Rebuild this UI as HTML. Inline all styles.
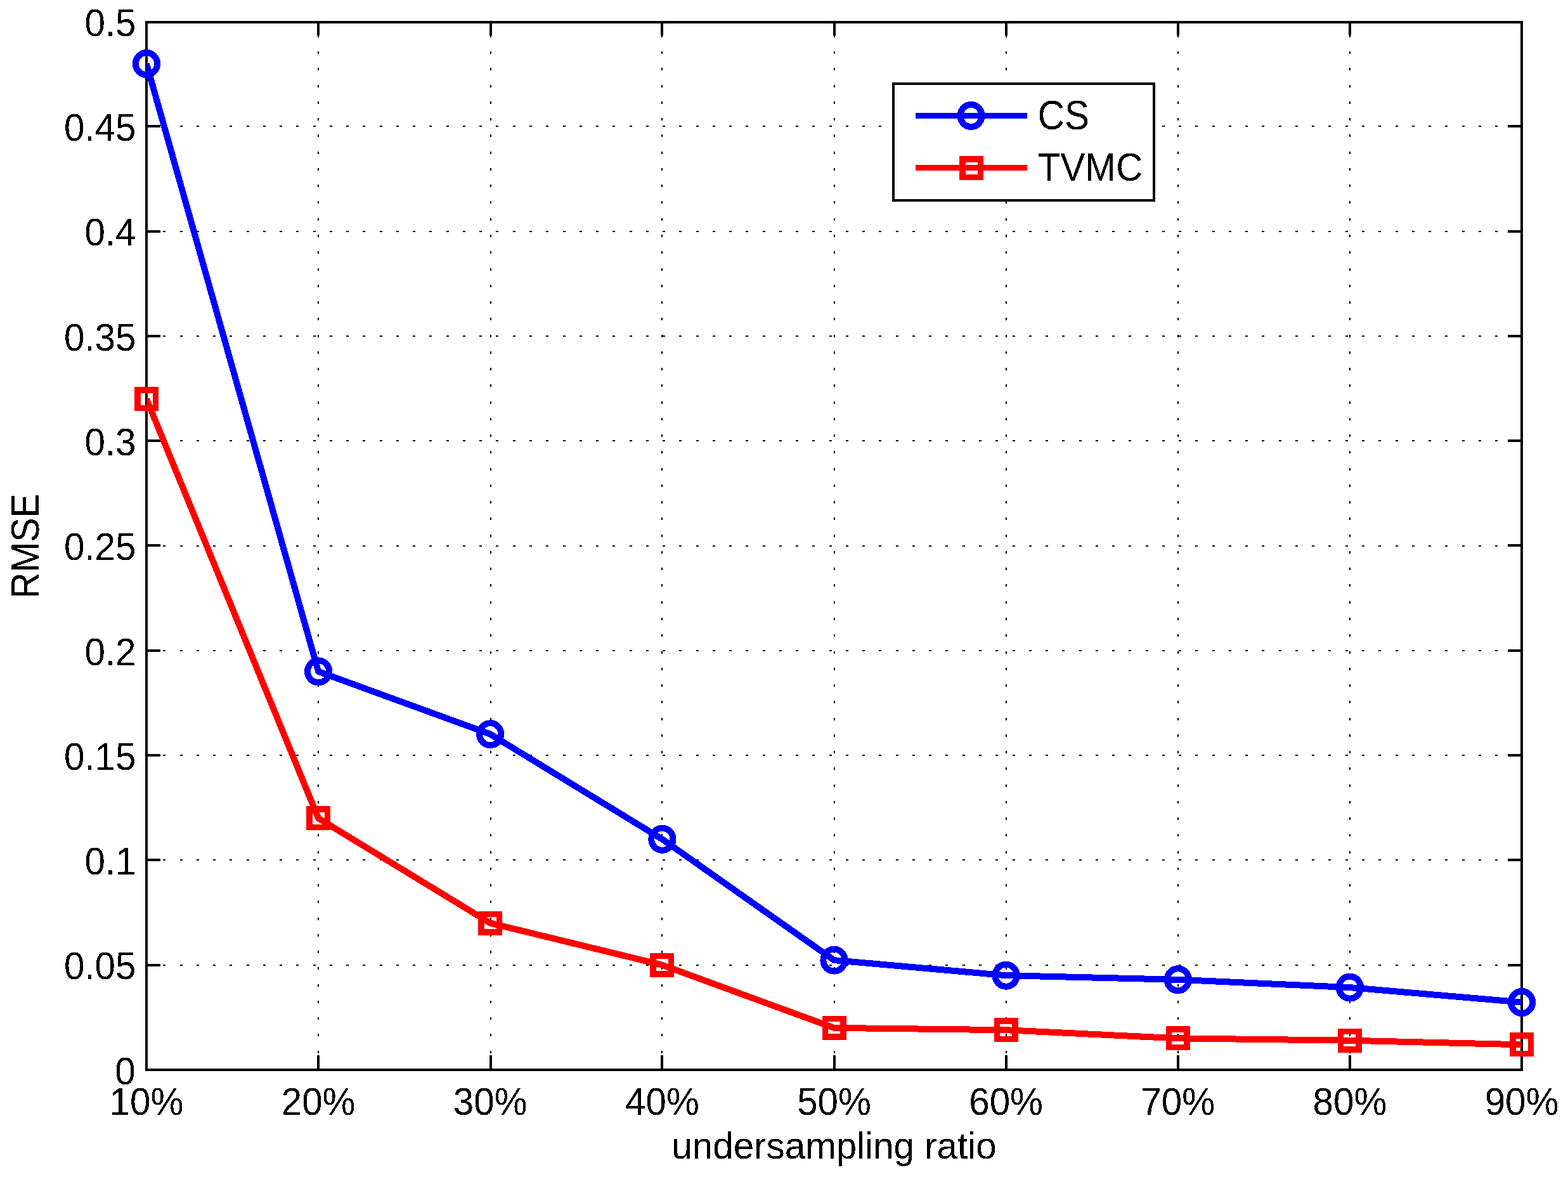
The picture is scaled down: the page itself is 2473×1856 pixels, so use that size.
<!DOCTYPE html>
<html lang="en"><head><meta charset="utf-8"><title>RMSE vs undersampling ratio</title>
<style>
html,body{margin:0;padding:0;background:#fff;}
body{width:2473px;height:1856px;}
svg{display:block;}
text{font-family:"Liberation Sans",sans-serif;font-size:58.33px;fill:#000;}
.ax{stroke:#000;stroke-width:4;fill:none;shape-rendering:crispEdges;}
.grid{stroke:#000;stroke-width:2;fill:none;stroke-dasharray:4 22.26;shape-rendering:crispEdges;}
.b{stroke:#0000ff;fill:none;stroke-width:10;stroke-linejoin:round;shape-rendering:crispEdges;}
.m{stroke-width:10;}
.r{stroke:#ff0000;fill:none;stroke-width:10;stroke-linejoin:round;shape-rendering:crispEdges;}
.q{stroke-width:9.5;stroke-linejoin:miter;}
</style></head><body>
<svg width="2473" height="1856" viewBox="0 0 2473 1856">
<defs><filter id="al" filterUnits="userSpaceOnUse" x="0" y="0" width="2473" height="1856" color-interpolation-filters="sRGB"><feComponentTransfer><feFuncA type="discrete" tableValues="0 1"/></feComponentTransfer></filter><clipPath id="clip"><rect x="231.0" y="32.0" width="2170.0" height="1657.0"/></clipPath></defs>
<rect x="0" y="0" width="2473" height="1856" fill="#fff"/>
<g class="grid">
<line x1="502.0" y1="1687.0" x2="502.0" y2="34.0"/>
<line x1="774.0" y1="1687.0" x2="774.0" y2="34.0"/>
<line x1="1044.0" y1="1687.0" x2="1044.0" y2="34.0"/>
<line x1="1316.0" y1="1687.0" x2="1316.0" y2="34.0"/>
<line x1="1587.0" y1="1687.0" x2="1587.0" y2="34.0"/>
<line x1="1858.0" y1="1687.0" x2="1858.0" y2="34.0"/>
<line x1="2129.0" y1="1687.0" x2="2129.0" y2="34.0"/>
<line x1="231.0" y1="1521.7" x2="2400.0" y2="1521.7"/>
<line x1="231.0" y1="1356.4" x2="2400.0" y2="1356.4"/>
<line x1="231.0" y1="1191.1" x2="2400.0" y2="1191.1"/>
<line x1="231.0" y1="1025.8" x2="2400.0" y2="1025.8"/>
<line x1="231.0" y1="860.5" x2="2400.0" y2="860.5"/>
<line x1="231.0" y1="695.2" x2="2400.0" y2="695.2"/>
<line x1="231.0" y1="529.9" x2="2400.0" y2="529.9"/>
<line x1="231.0" y1="364.6" x2="2400.0" y2="364.6"/>
<line x1="231.0" y1="199.3" x2="2400.0" y2="199.3"/>
</g>
<g class="ax">
<rect x="231.0" y="35.0" width="2169.0" height="1652.0"/>
<line x1="502" y1="1687.0" x2="502" y2="1664.0"/>
<line x1="502" y1="35.0" x2="502" y2="56.0"/>
<line x1="774" y1="1687.0" x2="774" y2="1664.0"/>
<line x1="774" y1="35.0" x2="774" y2="56.0"/>
<line x1="1044" y1="1687.0" x2="1044" y2="1664.0"/>
<line x1="1044" y1="35.0" x2="1044" y2="56.0"/>
<line x1="1316" y1="1687.0" x2="1316" y2="1664.0"/>
<line x1="1316" y1="35.0" x2="1316" y2="56.0"/>
<line x1="1587" y1="1687.0" x2="1587" y2="1664.0"/>
<line x1="1587" y1="35.0" x2="1587" y2="56.0"/>
<line x1="1858" y1="1687.0" x2="1858" y2="1664.0"/>
<line x1="1858" y1="35.0" x2="1858" y2="56.0"/>
<line x1="2129" y1="1687.0" x2="2129" y2="1664.0"/>
<line x1="2129" y1="35.0" x2="2129" y2="56.0"/>
<line x1="231.0" y1="1522" x2="253.0" y2="1522"/>
<line x1="2400.0" y1="1522" x2="2378.0" y2="1522"/>
<line x1="231.0" y1="1356" x2="253.0" y2="1356"/>
<line x1="2400.0" y1="1356" x2="2378.0" y2="1356"/>
<line x1="231.0" y1="1191" x2="253.0" y2="1191"/>
<line x1="2400.0" y1="1191" x2="2378.0" y2="1191"/>
<line x1="231.0" y1="1026" x2="253.0" y2="1026"/>
<line x1="2400.0" y1="1026" x2="2378.0" y2="1026"/>
<line x1="231.0" y1="860" x2="253.0" y2="860"/>
<line x1="2400.0" y1="860" x2="2378.0" y2="860"/>
<line x1="231.0" y1="695" x2="253.0" y2="695"/>
<line x1="2400.0" y1="695" x2="2378.0" y2="695"/>
<line x1="231.0" y1="530" x2="253.0" y2="530"/>
<line x1="2400.0" y1="530" x2="2378.0" y2="530"/>
<line x1="231.0" y1="365" x2="253.0" y2="365"/>
<line x1="2400.0" y1="365" x2="2378.0" y2="365"/>
<line x1="231.0" y1="199" x2="253.0" y2="199"/>
<line x1="2400.0" y1="199" x2="2378.0" y2="199"/>
</g>
<polyline class="b" clip-path="url(#clip)" points="231.0,100.5 502.1,1058.9 773.2,1157.7 1044.4,1323.3 1315.5,1514.1 1586.6,1538.2 1857.8,1544.8 2128.9,1557.1 2400.0,1580.5"/>
<ellipse class="b m" cx="231.0" cy="100.5" rx="17.1" ry="17.5"/>
<ellipse class="b m" cx="502.1" cy="1058.9" rx="17.1" ry="17.5"/>
<ellipse class="b m" cx="773.2" cy="1157.7" rx="17.1" ry="17.5"/>
<ellipse class="b m" cx="1044.4" cy="1323.3" rx="17.1" ry="17.5"/>
<ellipse class="b m" cx="1315.5" cy="1514.1" rx="17.1" ry="17.5"/>
<ellipse class="b m" cx="1586.6" cy="1538.2" rx="17.1" ry="17.5"/>
<ellipse class="b m" cx="1857.8" cy="1544.8" rx="17.1" ry="17.5"/>
<ellipse class="b m" cx="2128.9" cy="1557.1" rx="17.1" ry="17.5"/>
<ellipse class="b m" cx="2400.0" cy="1580.5" rx="17.1" ry="17.5"/>
<polyline class="r" clip-path="url(#clip)" points="231.0,629.1 502.1,1290.3 773.2,1455.6 1044.4,1521.7 1315.5,1620.9 1586.6,1624.2 1857.8,1637.4 2128.9,1640.7 2400.0,1647.3"/>
<rect class="r q" x="216.75" y="614.83" width="28.5" height="28.5"/>
<rect class="r q" x="487.88" y="1276.03" width="28.5" height="28.5"/>
<rect class="r q" x="759.00" y="1441.33" width="28.5" height="28.5"/>
<rect class="r q" x="1030.12" y="1507.45" width="28.5" height="28.5"/>
<rect class="r q" x="1301.25" y="1606.63" width="28.5" height="28.5"/>
<rect class="r q" x="1572.38" y="1609.94" width="28.5" height="28.5"/>
<rect class="r q" x="1843.50" y="1623.16" width="28.5" height="28.5"/>
<rect class="r q" x="2114.62" y="1626.47" width="28.5" height="28.5"/>
<rect class="r q" x="2385.75" y="1633.08" width="28.5" height="28.5"/>
<rect x="1409.0" y="132.0" width="411.0" height="184.0" fill="#fff" stroke="#000" stroke-width="4" shape-rendering="crispEdges"/>
<line class="b" style="stroke-width:9" x1="1444" y1="182.5" x2="1620" y2="182.5"/>
<ellipse class="b m" cx="1531.5" cy="182.5" rx="16.9" ry="17.6"/>
<line class="r" style="stroke-width:9" x1="1444" y1="264.5" x2="1620" y2="264.5"/>
<rect class="r q" x="1517.75" y="250.75" width="28.5" height="28.5"/>
<g filter="url(#al)">
<text transform="translate(1636.8,203.5) scale(1,1.125)">CS</text>
<text transform="translate(1636.8,285) scale(1,1.070)">TVMC</text>
<text transform="translate(213.7,1709.7) scale(1,1.04)" text-anchor="end">0</text>
<text transform="translate(214.5,1544.4) scale(1,1.04)" text-anchor="end">0.05</text>
<text transform="translate(214.5,1379.1) scale(1,1.04)" text-anchor="end">0.1</text>
<text transform="translate(214.5,1213.8) scale(1,1.04)" text-anchor="end">0.15</text>
<text transform="translate(214.5,1048.5) scale(1,1.04)" text-anchor="end">0.2</text>
<text transform="translate(214.5,883.2) scale(1,1.04)" text-anchor="end">0.25</text>
<text transform="translate(214.5,717.9) scale(1,1.04)" text-anchor="end">0.3</text>
<text transform="translate(214.5,552.6) scale(1,1.04)" text-anchor="end">0.35</text>
<text transform="translate(214.5,387.3) scale(1,1.04)" text-anchor="end">0.4</text>
<text transform="translate(214.5,222.0) scale(1,1.04)" text-anchor="end">0.45</text>
<text transform="translate(214.5,56.7) scale(1,1.04)" text-anchor="end">0.5</text>
<text transform="translate(231.0,1757.8) scale(1,1.04)" text-anchor="middle">10%</text>
<text transform="translate(502.1,1757.8) scale(1,1.04)" text-anchor="middle">20%</text>
<text transform="translate(773.2,1757.8) scale(1,1.04)" text-anchor="middle">30%</text>
<text transform="translate(1044.4,1757.8) scale(1,1.04)" text-anchor="middle">40%</text>
<text transform="translate(1315.5,1757.8) scale(1,1.04)" text-anchor="middle">50%</text>
<text transform="translate(1586.6,1757.8) scale(1,1.04)" text-anchor="middle">60%</text>
<text transform="translate(1857.8,1757.8) scale(1,1.04)" text-anchor="middle">70%</text>
<text transform="translate(2128.9,1757.8) scale(1,1.04)" text-anchor="middle">80%</text>
<text transform="translate(2400.0,1757.8) scale(1,1.04)" text-anchor="middle">90%</text>
<text x="1315.5" y="1826.6" text-anchor="middle">undersampling ratio</text>
<text transform="translate(61,861.0) rotate(-90) scale(0.985,1.070)" text-anchor="middle">RMSE</text>
</g>
</svg></body></html>
